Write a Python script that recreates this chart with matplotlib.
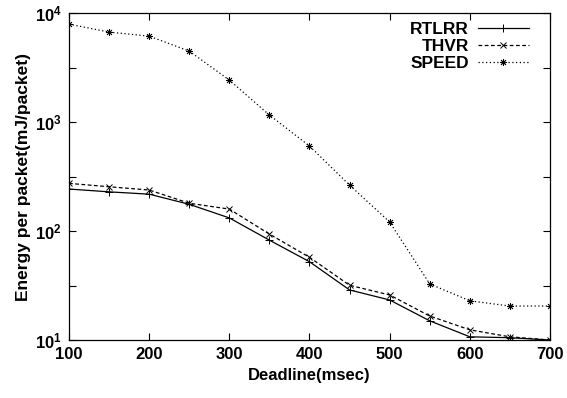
import numpy as np
import matplotlib
matplotlib.use("Agg")
import matplotlib.pyplot as plt
from matplotlib.ticker import FixedLocator, NullFormatter

plt.rcParams['font.family'] = ['Liberation Sans', 'DejaVu Sans']
plt.rcParams['font.weight'] = 'bold'
plt.rcParams['mathtext.fontset'] = 'custom'
plt.rcParams['mathtext.rm'] = 'Liberation Sans:bold'
plt.rcParams['mathtext.bf'] = 'Liberation Sans:bold'
plt.rcParams['mathtext.default'] = 'rm'

# Data
deadline = [100, 150, 200, 250, 300, 350, 400, 450, 500, 550, 600, 650, 700]
rtlrr = [243, 229, 218, 176, 132, 82.5, 52.3, 28.8, 23.3, 15.0, 10.7, 10.5, 10.0]
thvr = [274, 255, 238, 180, 159, 93.8, 57.4, 31.8, 25.9, 16.6, 12.4, 10.7, 10.0]
speed = [7930, 6700, 6150, 4480, 2430, 1160, 603, 264, 121, 32.7, 22.9, 20.5, 20.5]

fig = plt.figure(figsize=(5.67, 3.98), dpi=100)
ax = fig.add_axes([0.1217, 0.1457, 0.970 - 0.1217, 0.967 - 0.1457])

ax.plot(deadline, rtlrr, color='black', linestyle='-', linewidth=0.9,
        marker='+', markersize=6, markeredgewidth=0.7, label='RTLRR')
ax.plot(deadline, thvr, color='black', linestyle=(0, (3, 2)), linewidth=0.9,
        marker='x', markersize=5, markeredgewidth=0.7, label='THVR')
ax.plot(deadline, speed, color='black', linestyle=(0, (1, 2)), linewidth=0.9,
        marker=(8, 2, 0), markersize=5, markeredgewidth=0.6, label='SPEED')

ax.set_yscale('log')
ax.set_xlim(100, 700)
ax.set_ylim(10, 1e4)
ax.set_xticks([100, 200, 300, 400, 500, 600, 700])
ax.set_yticks([10, 100, 1000, 10000])
ax.set_yticklabels([r'$10^{1}$', r'$10^{2}$', r'$10^{3}$', r'$10^{4}$'])
ax.yaxis.set_minor_locator(FixedLocator([10 ** 1.5, 10 ** 2.5, 10 ** 3.5]))
ax.yaxis.set_minor_formatter(NullFormatter())

ax.tick_params(axis='both', which='both', direction='in', top=True, right=True,
               labelsize=12, width=0.8)
ax.tick_params(axis='both', which='major', length=5, pad=5)
ax.tick_params(axis='y', which='minor', length=5)
ax.tick_params(axis='x', which='minor', bottom=False, top=False)
for lbl in ax.get_xticklabels() + ax.get_yticklabels():
    lbl.set_fontweight('bold')
for s in ax.spines.values():
    s.set_linewidth(0.9)

ax.set_xlabel('Deadline(msec)', fontsize=12, fontweight='bold', labelpad=4)
ax.set_ylabel('Energy per packet(mJ/packet)', fontsize=12.5, fontweight='bold', labelpad=3)

ax.legend(loc='upper right', bbox_to_anchor=(0.97, 0.995), frameon=False,
          markerfirst=False, handlelength=2.9, handletextpad=0.55,
          labelspacing=0.12, borderaxespad=0.0,
          prop={'weight': 'bold', 'size': 12.5})

fig.savefig('out.png', dpi=100)
